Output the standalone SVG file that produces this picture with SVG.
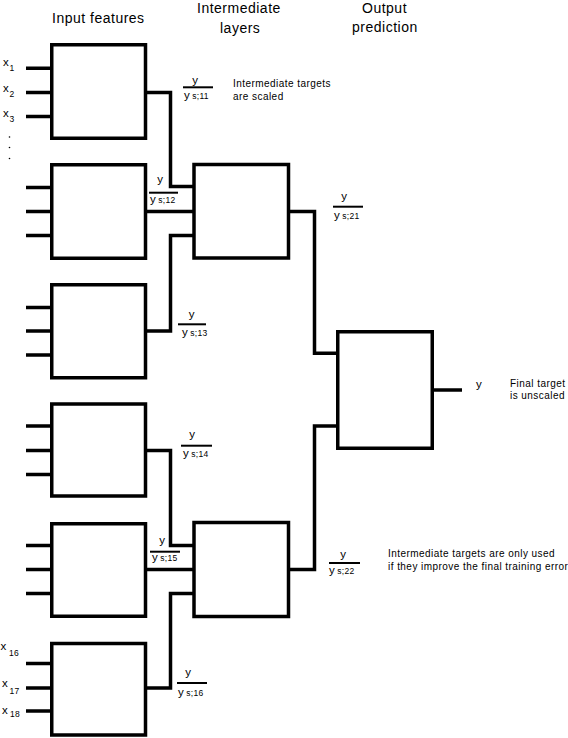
<svg xmlns="http://www.w3.org/2000/svg" width="568" height="738" viewBox="0 0 568 738">
<style>
.box{fill:#fff;stroke:#000;stroke-width:3.5}
.wire{fill:none;stroke:#000;stroke-width:3.5;stroke-linejoin:miter;stroke-linecap:butt}
.frac{stroke:#000;stroke-width:2}
text{font-family:"Liberation Sans",Arial,sans-serif;fill:#000}
.hdr{font-size:14px;letter-spacing:0.5px}
.note{font-size:10px;letter-spacing:0.45px}
.var{font-size:11.5px}
.sub{font-size:8.5px;letter-spacing:0.3px}
</style>
<rect width="568" height="738" fill="#fff"/>
<g id="headers">
<text class="hdr" x="52" y="23">Input features</text>
<text class="hdr" x="197" y="13">Intermediate</text>
<text class="hdr" x="220" y="33">layers</text>
<text class="hdr" x="362" y="13">Output</text>
<text class="hdr" x="352" y="32">prediction</text>
</g>
<g id="connectors">
<path class="wire" d="M26,68.3H52 M26,92.5H52 M26,116.5H52"/>
<path class="wire" d="M26,187.5H52 M26,211.5H52 M26,235.5H52"/>
<path class="wire" d="M26,307.5H52 M26,331H52 M26,355H52"/>
<path class="wire" d="M26,426H52 M26,450.5H52 M26,474.5H52"/>
<path class="wire" d="M26,545.5H52 M26,569.5H52 M26,593.5H52"/>
<path class="wire" d="M26,663.5H52 M26,688H52 M26,711H52"/>
<path class="wire" d="M146,92.5H170.5V186.5H194"/>
<path class="wire" d="M146,211.5H194"/>
<path class="wire" d="M146,331H170.5V235.5H194"/>
<path class="wire" d="M146,450.5H170.5V545.5H194"/>
<path class="wire" d="M146,569.5H194"/>
<path class="wire" d="M146,688H170.5V593.5H194"/>
<path class="wire" d="M288,211.5H314.5V353.3H338"/>
<path class="wire" d="M288,569.5H314.5V426H338"/>
<path class="wire" d="M432,390H462"/>
</g>
<g id="input-labels">
<text class="var" x="3" y="66">x<tspan class="sub" x="9.5" y="70.5">1</tspan></text>
<text class="var" x="3" y="92">x<tspan class="sub" x="9.5" y="96.5">2</tspan></text>
<text class="var" x="3" y="117">x<tspan class="sub" x="9.5" y="121.5">3</tspan></text>
<circle cx="9.5" cy="137" r="0.8"/>
<circle cx="9.5" cy="147.5" r="0.8"/>
<circle cx="9.5" cy="158.5" r="0.8"/>
<text class="var" x="0.5" y="650">x<tspan class="sub" x="9" y="656">16</tspan></text>
<text class="var" x="2" y="687">x<tspan class="sub" x="9.5" y="694">17</tspan></text>
<text class="var" x="2" y="714">x<tspan class="sub" x="10" y="716.5">18</tspan></text>
</g>
<g id="box-11"><rect class="box" x="51.75" y="44.75" width="93.75" height="93.5"/></g>
<g id="box-12"><rect class="box" x="51.75" y="164.75" width="93.75" height="93.5"/></g>
<g id="box-13"><rect class="box" x="51.75" y="284.75" width="93.75" height="93"/></g>
<g id="box-14"><rect class="box" x="51.75" y="404" width="93.75" height="92"/></g>
<g id="box-15"><rect class="box" x="51.75" y="523.75" width="93.75" height="92.5"/></g>
<g id="box-16"><rect class="box" x="51.75" y="643.5" width="93.75" height="91.5"/></g>
<g id="box-21"><rect class="box" x="194" y="164.5" width="94.5" height="93.5"/></g>
<g id="box-22"><rect class="box" x="194" y="522.5" width="94.5" height="94"/></g>
<g id="box-out"><rect class="box" x="337.75" y="331.75" width="94.5" height="116.5"/></g>
<g id="fractions">
<text class="var" x="195" y="83.5" text-anchor="middle">y</text>
<line class="frac" x1="183" y1="87.3" x2="213" y2="87.3"/>
<text class="var" x="184" y="98.5">y<tspan class="sub" dx="2.5">s;11</tspan></text>

<text class="var" x="160" y="183" text-anchor="middle">y</text>
<line class="frac" x1="149" y1="192.7" x2="178" y2="192.7"/>
<text class="var" x="150" y="203">y<tspan class="sub" dx="2.5">s;12</tspan></text>

<text class="var" x="191.5" y="318" text-anchor="middle">y</text>
<line class="frac" x1="178" y1="324.3" x2="206" y2="324.3"/>
<text class="var" x="182" y="336">y<tspan class="sub" dx="2.5">s;13</tspan></text>

<text class="var" x="192" y="438" text-anchor="middle">y</text>
<line class="frac" x1="181" y1="445.7" x2="212" y2="445.7"/>
<text class="var" x="183" y="457">y<tspan class="sub" dx="2.5">s;14</tspan></text>

<text class="var" x="162" y="543.5" text-anchor="middle">y</text>
<line class="frac" x1="150" y1="551.7" x2="180" y2="551.7"/>
<text class="var" x="152" y="561">y<tspan class="sub" dx="2.5">s;15</tspan></text>

<text class="var" x="188" y="676" text-anchor="middle">y</text>
<line class="frac" x1="177" y1="683" x2="207" y2="683"/>
<text class="var" x="178" y="696">y<tspan class="sub" dx="2.5">s;16</tspan></text>

<text class="var" x="344" y="200" text-anchor="middle">y</text>
<line class="frac" x1="333" y1="206.7" x2="363" y2="206.7"/>
<text class="var" x="334" y="219">y<tspan class="sub" dx="2.5">s;21</tspan></text>

<text class="var" x="343" y="558" text-anchor="middle">y</text>
<line class="frac" x1="329" y1="563" x2="360" y2="563"/>
<text class="var" x="329" y="573.5">y<tspan class="sub" dx="2.5">s;22</tspan></text>
</g>
<g id="notes">
<text class="note" x="233" y="87">Intermediate targets</text>
<text class="note" x="233" y="100">are scaled</text>
<text class="var" x="476" y="388">y</text>
<text class="note" x="510" y="387">Final target</text>
<text class="note" x="510" y="399">is unscaled</text>
<text class="note" x="388" y="557">Intermediate targets are only used</text>
<text class="note" x="388" y="570">if they improve the final training error</text>
</g>
</svg>
